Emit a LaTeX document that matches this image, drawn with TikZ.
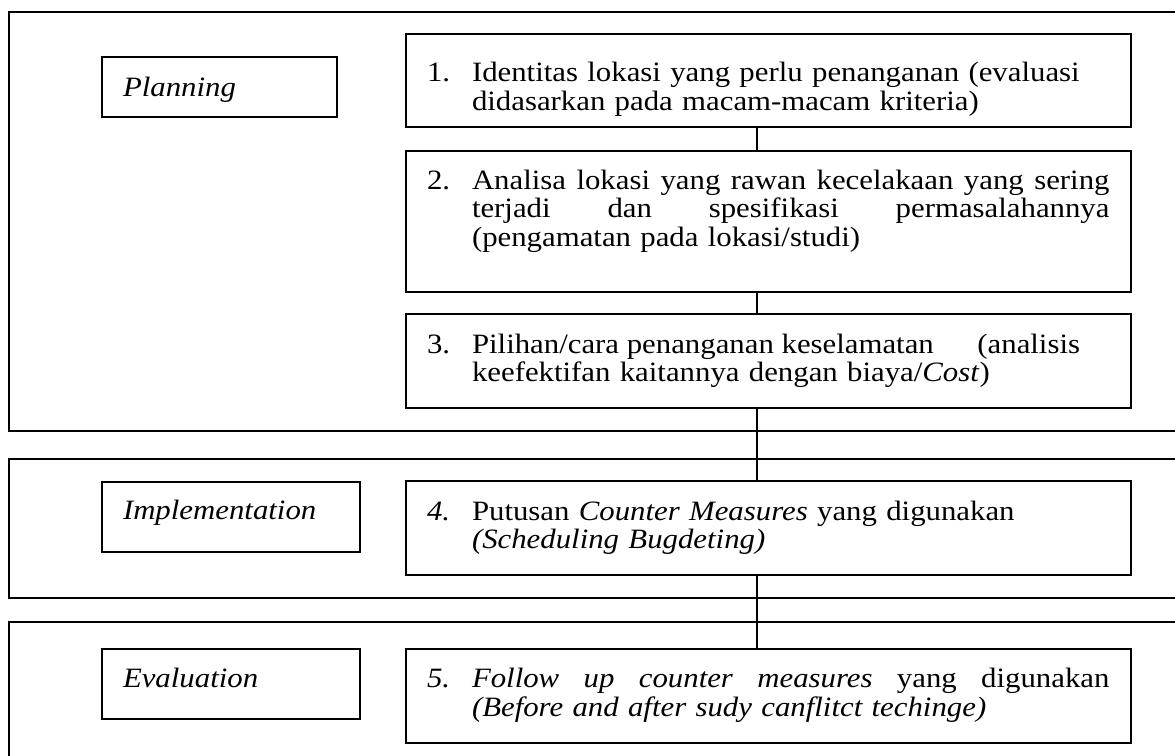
\documentclass[tikz,border=0pt]{standalone}
\usepackage{fontspec}
\setmainfont{Liberation Serif}[FakeStretch=1.1]
\usepackage{tikz}
\setlength{\parindent}{0pt}

\newcommand{\boxfont}{\fontsize{14pt}{14.3pt}\selectfont\normalbaselineskip=14.3pt\relax}
\newcommand{\strutpad}[2]{\rule[-#2]{0pt}{\dimexpr #1+#2\relax}}
\newcommand{\numbox}[1]{\makebox[22.5pt][l]{#1}}
\newcommand{\hangpad}{\hspace*{22.5pt}}
\newcommand{\fullline}[2]{\makebox[#1][s]{\spaceskip=0pt\xspaceskip=0pt\relax #2}}

\tikzset{
  phaseframe/.style={line width=1pt},
  tagbox/.style={draw, line width=1pt, anchor=north west, outer sep=0pt,
    inner xsep=10.5pt, inner ysep=0pt, align=left, font=\boxfont\itshape},
  stepbox/.style={draw, line width=1pt, anchor=north west, outer sep=0pt,
    inner xsep=10.5pt, inner ysep=0pt, text width=341.5pt, align=left, font=\boxfont},
  link/.style={line width=1pt}
}

\begin{document}
\begin{tikzpicture}[x=0.5pt,y=-0.5pt]
\useasboundingbox (0,0) rectangle (1175,756);
\clip (0,0) rectangle (1175,756);
\fill[white] (0,0) rectangle (1175,756);

% the three phases
\draw[phaseframe] (9,11.5) rectangle (1200,431);
\draw[phaseframe] (9,459) rectangle (1200,598.3);
\draw[phaseframe] (9,621.7) rectangle (1200,790);

\node[tagbox, text width=96.5pt] (planning) at (102,57)
  {\strutpad{19.85pt}{10.15pt}Planning};
\node[tagbox, text width=108pt] (implementation) at (102,481.5)
  {\strutpad{19.2pt}{15.8pt}Implementation};
\node[tagbox, text width=108pt] (evaluation) at (102,649.3)
  {\strutpad{19.2pt}{15.8pt}Evaluation};

% the steps
\node[stepbox] (s1) at (406,34)
  {\strutpad{23.85pt}{0pt}\numbox{1.}Identitas lokasi yang perlu penanganan (evaluasi\\
   \hangpad didasarkan pada macam-macam kriteria)\strutpad{0pt}{8.2pt}};
\node[stepbox] (s2) at (406,150.7)
  {\strutpad{19.3pt}{0pt}\numbox{2.}\fullline{318.75pt}{Analisa lokasi yang rawan kecelakaan yang sering}\\
   \hangpad\fullline{318.75pt}{terjadi dan spesifikasi permasalahannya}\\
   \hangpad(pengamatan pada lokasi/studi)\strutpad{0pt}{22.6pt}};
\node[stepbox] (s3) at (406,314)
  {\strutpad{19.65pt}{0pt}\numbox{3.}\fullline{304pt}{Pilihan/cara penanganan keselamatan\hfill(analisis}\\
   \hangpad keefektifan kaitannya dengan biaya/\textit{Cost})\strutpad{0pt}{12.85pt}};
\node[stepbox] (s4) at (406,481)
  {\strutpad{19.5pt}{0pt}\textit{\numbox{4.}}Putusan \textit{Counter Measures} yang digunakan\\
   \hangpad\textit{(Scheduling Bugdeting)}\strutpad{0pt}{13.2pt}};
\node[stepbox] (s5) at (406,649.3)
  {\strutpad{19.2pt}{0pt}\textit{\numbox{5.}}\fullline{318.75pt}{\textit{Follow up counter measures} yang digunakan}\\
   \hangpad\textit{(Before and after sudy canflitct techinge)}\strutpad{0pt}{13.2pt}};

\coordinate (spine) at (756.7,0);
\draw[link] (s1.south -| spine) -- (s2.north -| spine);
\draw[link] (s2.south -| spine) -- (s3.north -| spine);
\draw[link] (s3.south -| spine) -- (s4.north -| spine);
\draw[link] (s4.south -| spine) -- (s5.north -| spine);
\end{tikzpicture}
\end{document}
